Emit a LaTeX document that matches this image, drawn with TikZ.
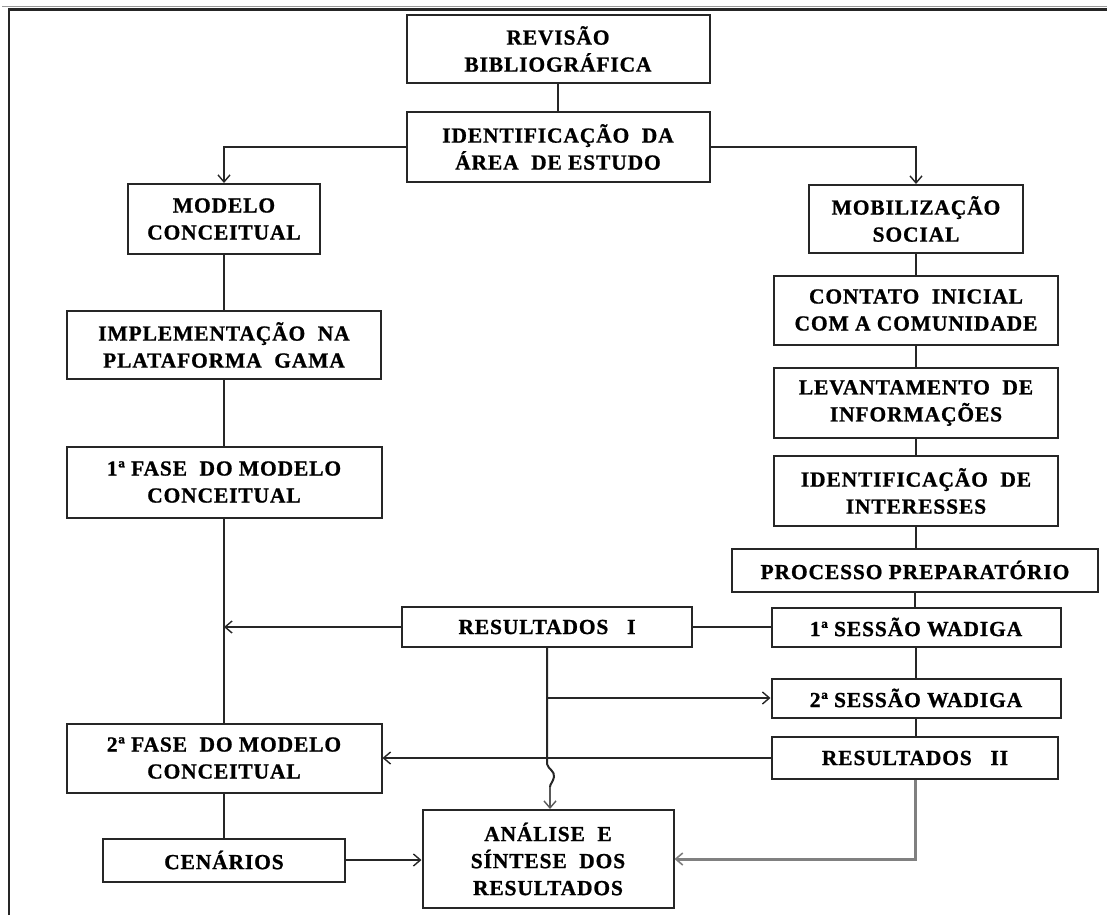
\documentclass[tikz,border=0pt]{standalone}
\usepackage{fontspec}
\setmainfont{Liberation Serif}[BoldFont={Liberation Serif Bold},BoldFeatures={FakeBold=0.9},LetterSpace=4]
\usetikzlibrary{arrows.meta,calc}
\begin{document}
\begin{tikzpicture}[x=1pt,y=-1pt,
  box/.style={draw=black!85,line width=2pt,fill=white,inner sep=2pt,align=center,
    font=\fontsize{21.5}{27}\selectfont\bfseries},
  link/.style={draw=black!85,line width=2pt},
  arr/.style={link,-{Straight Barb[length=7pt,width=12pt,line width=1.4pt]}},
  greyarr/.style={draw=black!50,line width=3pt,-{Straight Barb[length=7pt,width=12pt,line width=1.6pt]}}]
\useasboundingbox (0,0) rectangle (1107,915);
% outer frame (top and left edges)
\draw[black!85,line width=2.4pt] (9,915) -- (9,9.5) -- (1107,9.5);
\draw[black!40,line width=1pt] (2,6.5) -- (1107,6.5);

% main column
\node[box,minimum width=303,minimum height=68] (rev) at (558,49) {REVISÃO\\BIBLIOGRÁFICA};
\node[box,minimum width=303,minimum height=70] (ida) at (558,147) {IDENTIFICAÇÃO~ DA\\ÁREA~ DE ESTUDO};

% left column
\node[box,minimum width=192,minimum height=70] (mod) at (224,219) {MODELO\\CONCEITUAL};
\node[box,minimum width=314,minimum height=68] (imp) at (224,345) {IMPLEMENTAÇÃO~ NA\\PLATAFORMA~ GAMA};
\node[box,minimum width=315,minimum height=71] (f1) at (224,482) {1ª FASE~ DO MODELO\\CONCEITUAL};
\node[box,minimum width=315,minimum height=69] (f2) at (224,758) {2ª FASE~ DO MODELO\\CONCEITUAL};
\node[box,minimum width=242,minimum height=43] (cen) at (224,860) {CENÁRIOS};

% right column
\node[box,minimum width=214,minimum height=68] (mob) at (916,219) {MOBILIZAÇÃO\\SOCIAL};
\node[box,minimum width=284,minimum height=69] (con) at (916,310) {CONTATO~ INICIAL\\COM A COMUNIDADE};
\node[box,minimum width=284,minimum height=70] (lev) at (916,403) {LEVANTAMENTO~ DE\\INFORMAÇÕES};
\node[box,minimum width=284,minimum height=70] (idi) at (916,491) {IDENTIFICAÇÃO~ DE\\INTERESSES};
\node[box,minimum width=366,minimum height=43] (pro) at (915,570) {PROCESSO PREPARATÓRIO};
\node[box,minimum width=289,minimum height=39] (s1) at (916,627) {1ª SESSÃO WADIGA};
\node[box,minimum width=289,minimum height=39] (s2) at (916,698) {2ª SESSÃO WADIGA};
\node[box,minimum width=286,minimum height=42] (r2) at (915,758) {RESULTADOS~~ II};

% middle
\node[box,minimum width=290,minimum height=40] (r1) at (547,627) {RESULTADOS~~ I};
\node[box,minimum width=251,minimum height=98] (ana) at (548,859) {ANÁLISE~ E\\SÍNTESE~ DOS\\RESULTADOS};

% top connectors
\draw[link] (rev.south) -- (ida.north);
\draw[arr] (ida.west) -| (mod.north);
\draw[arr] (ida.east) -| (mob.north);

% left chain
\draw[link] (mod.south) -- (mod.south |- imp.north);
\draw[link] (imp.south) -- (imp.south |- f1.north);
\draw[link] (f1.south) -- (f1.south |- f2.north);
\draw[arr] (r1.west) -- (f1.south |- r1.west);
\draw[link] (f2.south) -- (f2.south |- cen.north);
\draw[arr] (cen.east) -- (ana.west |- cen.east);

% right chain
\draw[link] (mob.south) -- (mob.south |- con.north);
\draw[link] (con.south) -- (lev.north);
\draw[link] (lev.south) -- (idi.north);
\draw[link] (idi.south) -- (idi.south |- pro.north);
\draw[link] (pro.south) -- (pro.south |- s1.north);
\draw[link] (s1.south) -- (s1.south |- s2.north);
\draw[link] (s2.south) -- (s2.south |- r2.north);

% results links
\draw[link] (r1.east) -- (s1.west |- r1.east);
\coordinate (split) at (r1.south |- s2.west);
\draw[arr] (split) -- (s2.west);
\draw[arr] (r2.west) -- (f2.east |- r2.west);
\coordinate (hopA) at ($(r1.south)+(0,116)$);
\draw[link] (r1.south) -- (hopA)
  .. controls +(1,5) and +(1,-6) .. ++(7,13)
  .. controls +(-1,5) and +(0,-3) .. ++(-4,10)
  coordinate (hopB);
\draw[arr,draw=black!65] (hopB) -- (hopB |- ana.north);
\draw[greyarr] (r2.south) |- (ana.east);
\end{tikzpicture}
\end{document}
